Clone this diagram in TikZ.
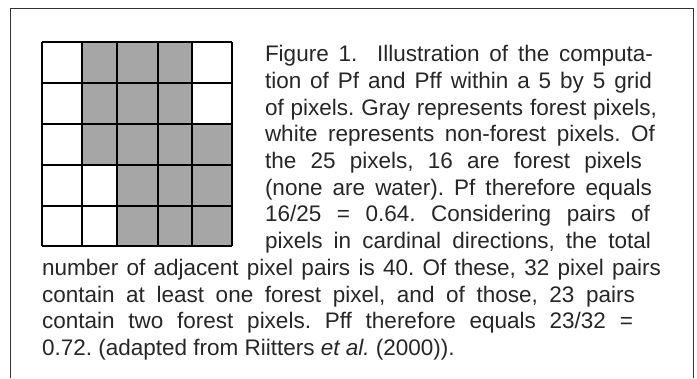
\documentclass[tikz,border=0pt]{standalone}
\usepackage{fontspec}
\setmainfont{Liberation Sans}
\definecolor{forest}{HTML}{A6A6A6}
\definecolor{framecol}{HTML}{333333}
\newcommand{\jline}[2]{\makebox[#1pt][s]{#2}}
\tikzset{
  txt/.style={anchor=base west, inner sep=0pt, outer sep=0pt, font=\fontsize{22.5}{26}\selectfont\frenchspacing, text=black!85},
  gridline/.style={line width=2pt, black},
  framestyle/.style={line width=1pt, framecol},
}
\begin{document}
\begin{tikzpicture}[x=1pt,y=-1pt]
\useasboundingbox (0,0) rectangle (697,378);
% frame (open at bottom)
\draw[framestyle] (10,378) -- (10,8) -- (693,8) -- (693,378);
% forest cells
\fill[forest] (82,42) rectangle (192,124);
\fill[forest] (82,124) rectangle (232,165);
\fill[forest] (117,165) rectangle (232,246);
% grid
\foreach \x in {42,82,117,158,192,232} \draw[gridline] (\x,42) -- (\x,246);
\foreach \y in {42,83,124,165,206,246} \draw[gridline] (42,\y) -- (232,\y);
% text
\node[txt] (l1) at (265,61.7) {\jline{388}{Figure 1.\ \ Illustration of the computa-}};
\node[txt] (l2) at (265,88.4) {\jline{387}{tion of Pf and Pff within a 5 by 5 grid}};
\node[txt] (l3) at (265,115.0) {\jline{392}{of pixels. Gray represents forest pixels,}};
\node[txt] (l4) at (265,141.7) {\jline{390}{white represents non-forest pixels. Of}};
\node[txt] (l5) at (265,168.4) {\jline{377}{the 25 pixels, 16 are forest pixels}};
\node[txt] (l6) at (265,195.0) {\jline{387}{(none are water). Pf therefore equals}};
\node[txt] (l7) at (265,221.7) {\jline{385}{16/25 = 0.64. Considering pairs of}};
\node[txt] (l8) at (265,248.4) {\jline{386}{pixels in cardinal directions, the total}};
\node[txt] (l9) at (42,275.4) {\jline{619}{number of adjacent pixel pairs is 40. Of these, 32 pixel pairs}};
\node[txt] (l10) at (42,302.1) {\jline{593}{contain at least one forest pixel, and of those, 23 pairs}};
\node[txt] (l11) at (42,328.8) {\jline{591}{contain two forest pixels. Pff therefore equals 23/32 =}};
\node[txt] (l12) at (42,355.5) {0.72. (adapted from Riitters \textit{et al.} (2000)).};
\end{tikzpicture}
\end{document}
